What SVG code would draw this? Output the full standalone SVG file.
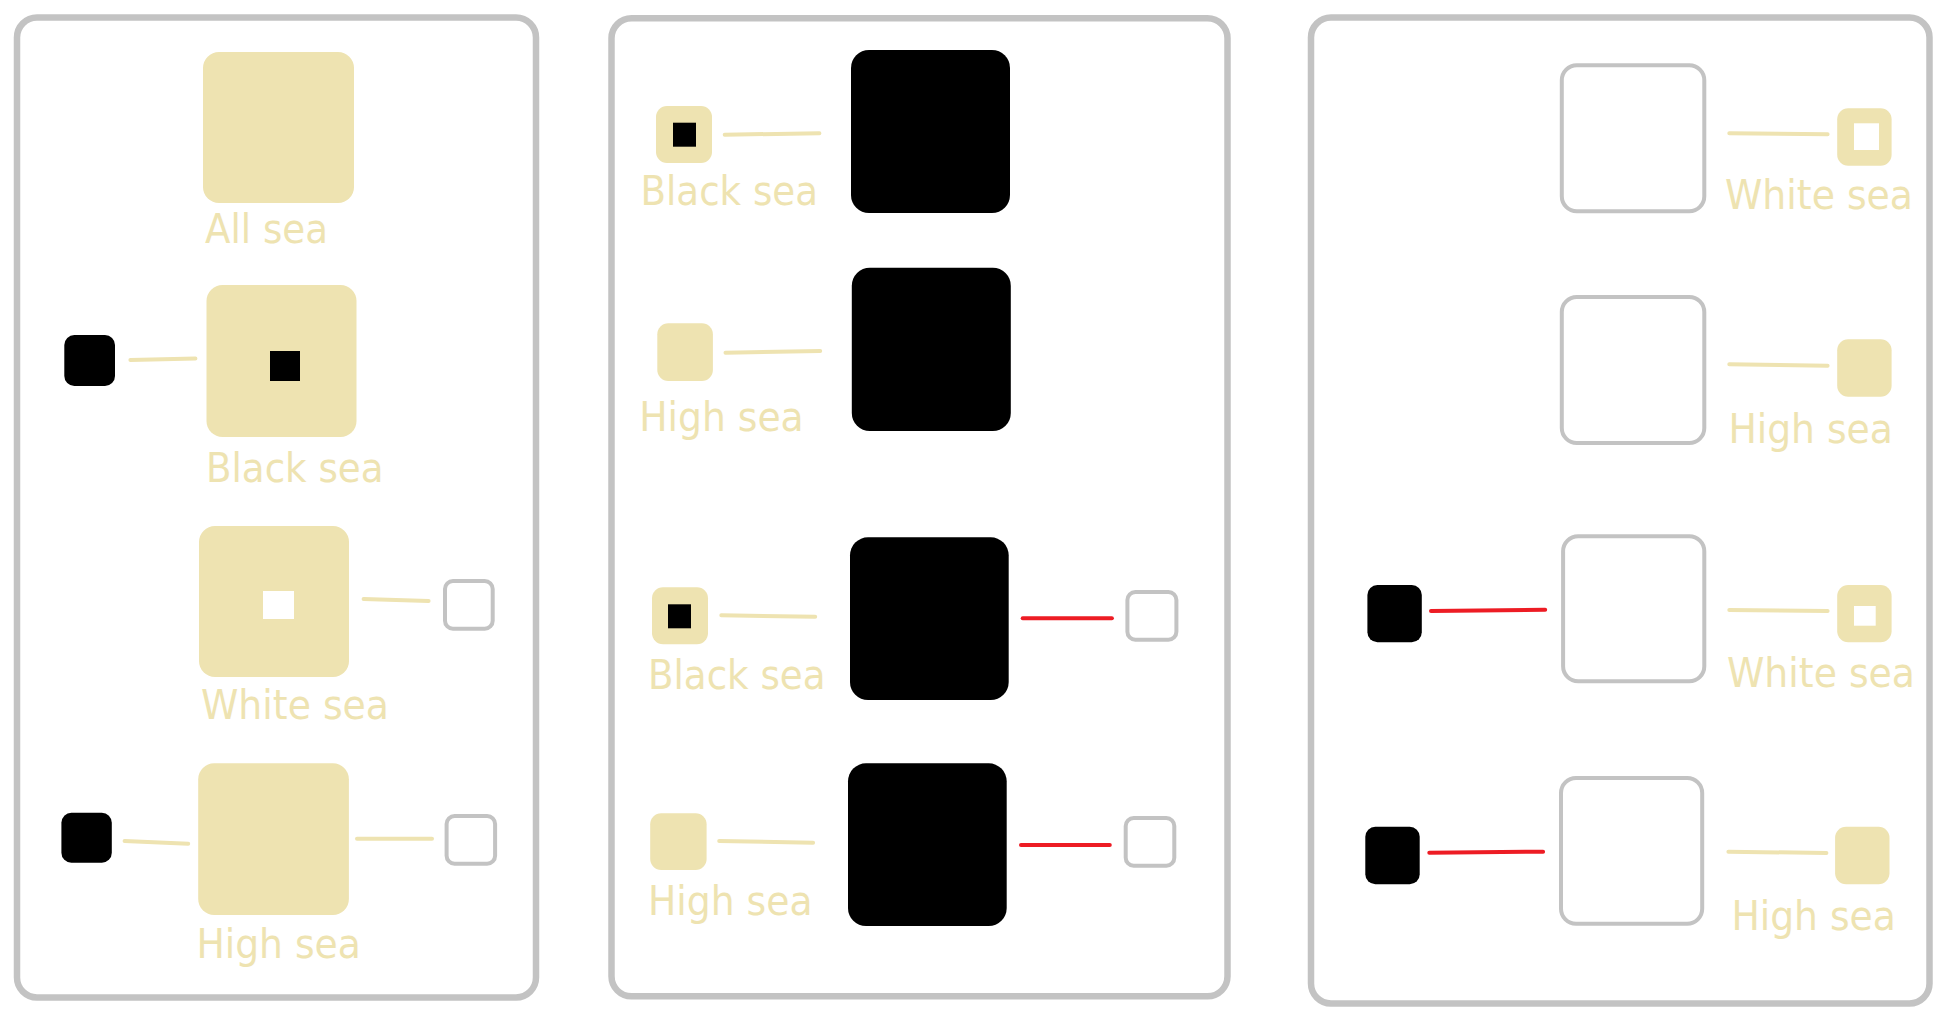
<svg xmlns="http://www.w3.org/2000/svg" width="1946" height="1025" viewBox="0 0 1946 1025">
<style>
.frame{fill:#fff;stroke:#c3c3c3;stroke-width:6.5}
.kh{fill:#eee3b1}
.bk{fill:#000}
.wh{fill:#fff}
.gr{fill:#fff;stroke:#c3c3c3;stroke-width:4}
.lbl{font-family:'DejaVu Sans','Verdana',sans-serif;font-size:40px;fill:#eee3b1}
.ck{stroke:#eee3b1;stroke-width:4;stroke-linecap:round;fill:none}
.cr{stroke:#ed1c24;stroke-width:4;stroke-linecap:round;fill:none}
</style>
<rect width="1946" height="1025" fill="#fff"/>
<g id="frames">
<rect class="frame" x="17" y="17.5" width="519" height="980" rx="20"/>
<rect class="frame" x="611.5" y="18.3" width="616" height="978" rx="20"/>
<rect class="frame" x="1311" y="17.5" width="618.5" height="986" rx="20"/>
</g>
<g id="connectors">
<line class="ck" x1="130.4" y1="360" x2="195.4" y2="358.5"/>
<line class="ck" x1="363.6" y1="599" x2="428.6" y2="601"/>
<line class="ck" x1="124.6" y1="841" x2="188.2" y2="843.7"/>
<line class="ck" x1="357" y1="838.7" x2="432" y2="838.7"/>
<line class="ck" x1="724.7" y1="134.7" x2="819.4" y2="133.3"/>
<line class="ck" x1="725.5" y1="352.7" x2="820.2" y2="351"/>
<line class="ck" x1="721.3" y1="615.3" x2="815.2" y2="616.7"/>
<line class="cr" x1="1022.7" y1="618.3" x2="1111.9" y2="618.3"/>
<line class="ck" x1="719.2" y1="841" x2="813.1" y2="842.7"/>
<line class="cr" x1="1021" y1="845" x2="1109.8" y2="845"/>
<line class="ck" x1="1729.3" y1="133.3" x2="1827.6" y2="134.3"/>
<line class="ck" x1="1729.3" y1="364.3" x2="1827.6" y2="365.7"/>
<line class="cr" x1="1431" y1="611" x2="1545.2" y2="609.7"/>
<line class="ck" x1="1729.3" y1="610" x2="1827.6" y2="611"/>
<line class="cr" x1="1429.3" y1="852.7" x2="1543.1" y2="851.7"/>
<line class="ck" x1="1728.4" y1="851.7" x2="1826.4" y2="853"/>
</g>
<!-- Panel 1 -->
<g id="p1-all-sea">
<rect class="kh" x="203" y="52" width="151" height="151" rx="16"/>
<text class="lbl" x="205" y="243" textLength="123" lengthAdjust="spacingAndGlyphs">All sea</text>
</g>
<g id="p1-black-sea">
<rect class="kh" x="206.5" y="285" width="150" height="152" rx="16"/>
<rect class="bk" x="270" y="351" width="30" height="30"/>
<text class="lbl" x="206" y="482" textLength="177.5" lengthAdjust="spacingAndGlyphs">Black sea</text>
</g>
<g id="p1-black-1"><rect class="bk" x="64.3" y="335" width="50.7" height="51" rx="10"/></g>
<g id="p1-white-sea">
<rect class="kh" x="199" y="526" width="150" height="151" rx="16"/>
<rect class="wh" x="263" y="591" width="31" height="28"/>
<text class="lbl" x="201" y="719" textLength="188" lengthAdjust="spacingAndGlyphs">White sea</text>
</g>
<g id="p1-empty-1"><rect class="gr" x="445" y="581" width="47.7" height="47.7" rx="8"/></g>
<g id="p1-high-sea">
<rect class="kh" x="198.2" y="763.3" width="150.7" height="151.7" rx="16"/>
<text class="lbl" x="196.4" y="958" textLength="164.5" lengthAdjust="spacingAndGlyphs">High sea</text>
</g>
<g id="p1-black-2"><rect class="bk" x="61.4" y="812.7" width="50.4" height="50" rx="10"/></g>
<g id="p1-empty-2"><rect class="gr" x="446.6" y="816" width="48.5" height="47.7" rx="8"/></g>
<!-- Panel 2 -->
<g id="p2-black-sea-1">
<rect class="kh" x="656" y="106" width="56" height="57" rx="11"/>
<rect class="bk" x="673" y="122.7" width="23" height="24"/>
<text class="lbl" x="640.5" y="205" textLength="177.5" lengthAdjust="spacingAndGlyphs">Black sea</text>
</g>
<g id="p2-big-1"><rect class="bk" x="851" y="50" width="159" height="163" rx="18"/></g>
<g id="p2-high-sea-1">
<rect class="kh" x="657.3" y="323.3" width="55.6" height="57.7" rx="11"/>
<text class="lbl" x="639.2" y="431" textLength="164.5" lengthAdjust="spacingAndGlyphs">High sea</text>
</g>
<g id="p2-big-2"><rect class="bk" x="851.8" y="267.7" width="159" height="163.3" rx="18"/></g>
<g id="p2-black-sea-2">
<rect class="kh" x="652" y="587.3" width="56" height="57" rx="11"/>
<rect class="bk" x="668" y="604.3" width="23" height="24"/>
<text class="lbl" x="648" y="689.3" textLength="177.5" lengthAdjust="spacingAndGlyphs">Black sea</text>
</g>
<g id="p2-big-3"><rect class="bk" x="850" y="537.3" width="158.7" height="162.7" rx="18"/></g>
<g id="p2-empty-1"><rect class="gr" x="1127.4" y="592" width="49" height="47.7" rx="8"/></g>
<g id="p2-high-sea-2">
<rect class="kh" x="650.2" y="813.3" width="56.4" height="56.7" rx="11"/>
<text class="lbl" x="648" y="915" textLength="164.5" lengthAdjust="spacingAndGlyphs">High sea</text>
</g>
<g id="p2-big-4"><rect class="bk" x="848" y="763.3" width="158.7" height="162.7" rx="18"/></g>
<g id="p2-empty-2"><rect class="gr" x="1125.7" y="818" width="48.6" height="47.7" rx="8"/></g>
<!-- Panel 3 -->
<g id="p3-box-1"><rect class="gr" x="1561.8" y="65.3" width="142.5" height="146" rx="15"/></g>
<g id="p3-white-sea-1">
<rect class="kh" x="1837.2" y="108.3" width="54.4" height="57.4" rx="11"/>
<rect class="wh" x="1854" y="123.3" width="25" height="26.7"/>
<text class="lbl" x="1725" y="209.3" textLength="188" lengthAdjust="spacingAndGlyphs">White sea</text>
</g>
<g id="p3-box-2"><rect class="gr" x="1561.8" y="297" width="142.5" height="146" rx="15"/></g>
<g id="p3-high-sea-1">
<rect class="kh" x="1837.2" y="339.3" width="54.4" height="57.4" rx="11"/>
<text class="lbl" x="1728.4" y="443.3" textLength="164.5" lengthAdjust="spacingAndGlyphs">High sea</text>
</g>
<g id="p3-black-1"><rect class="bk" x="1367.4" y="585" width="54.4" height="57.3" rx="10"/></g>
<g id="p3-box-3"><rect class="gr" x="1563.1" y="536.3" width="141.2" height="145" rx="15"/></g>
<g id="p3-white-sea-2">
<rect class="kh" x="1837.2" y="585" width="54.4" height="57.3" rx="11"/>
<rect class="wh" x="1854" y="606" width="21.7" height="19.7"/>
<text class="lbl" x="1727" y="686.7" textLength="188" lengthAdjust="spacingAndGlyphs">White sea</text>
</g>
<g id="p3-black-2"><rect class="bk" x="1365.3" y="826.7" width="54.4" height="57.6" rx="10"/></g>
<g id="p3-box-4"><rect class="gr" x="1561" y="778" width="141.2" height="145.7" rx="15"/></g>
<g id="p3-high-sea-2">
<rect class="kh" x="1835.1" y="826.7" width="54.4" height="57.6" rx="11"/>
<text class="lbl" x="1731.4" y="930" textLength="164.5" lengthAdjust="spacingAndGlyphs">High sea</text>
</g>
</svg>
